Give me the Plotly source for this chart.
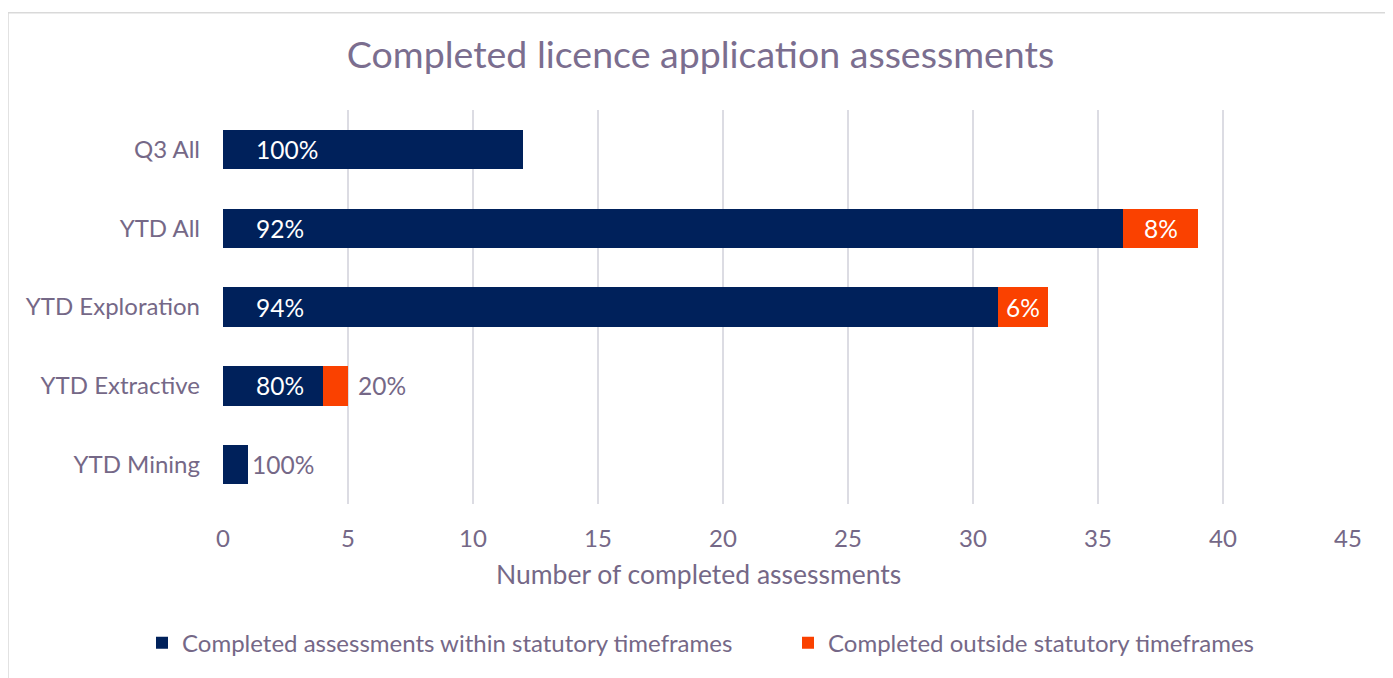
import plotly.graph_objects as go

categories = ["Q3 All", "YTD All", "YTD Exploration", "YTD Extractive", "YTD Mining"]
within = [12, 36, 31, 4, 1]
outside = [0, 3, 2, 1, 0]
series_names = ["Completed assessments within statutory timeframes",
                "Completed outside statutory timeframes"]
x_ticks = [0, 5, 10, 15, 20, 25, 30, 35, 40, 45]
x_title = "Number of completed assessments"

NAVY = "#00215B"
ORANGE = "#FA4100"
TXT = "#756887"
GRID = "#DCDCE3"
FONT = "Lato, 'Open Sans', sans-serif"

# page body adds an 8px margin; work in absolute page pixels
OFF = 8
W, H = 1393 - OFF, 678 - OFF
PX0, PX1 = 223, 1348      # plot area, absolute page x
PY0, PY1 = 109.5, 504.5   # plot area, absolute page y
L, T = PX0 - OFF, PY0 - OFF
pw, ph = PX1 - PX0, PY1 - PY0
R, B = W - L - pw, H - T - ph

def px(xabs):
    return (xabs - PX0) / pw

def py(yabs):
    return (PY1 - yabs) / ph

fig = go.Figure()
fig.add_trace(go.Bar(y=categories, x=within, orientation="h", name=series_names[0],
                     marker=dict(color=NAVY, line=dict(width=0)), hoverinfo="x+y", legend="legend"))
fig.add_trace(go.Bar(y=categories, x=outside, orientation="h", name=series_names[1],
                     marker=dict(color=ORANGE, line=dict(width=0)), hoverinfo="x+y", legend="legend2"))

LBL = 24.5
annotations = []
for c, a, b in zip(categories, within, outside):
    tot = a + b
    pa = round(100 * a / tot)
    pb = round(100 * b / tot)
    if a > 0:
        if a >= 1.5:
            annotations.append(dict(x=0, y=c, xref="x", yref="y", text=f"{pa}%", showarrow=False,
                                    xanchor="left", xshift=31, font=dict(color="white", size=LBL, family=FONT)))
        else:
            annotations.append(dict(x=tot, y=c, xref="x", yref="y", text=f"{pa}%", showarrow=False,
                                    xanchor="left", xshift=2, font=dict(color=TXT, size=LBL, family=FONT)))
    if b > 0:
        if b >= 1.5:
            annotations.append(dict(x=a + b / 2, y=c, xref="x", yref="y", text=f"{pb}%", showarrow=False,
                                    xanchor="center", font=dict(color="white", size=LBL, family=FONT)))
        else:
            annotations.append(dict(x=tot, y=c, xref="x", yref="y", text=f"{pb}%", showarrow=False,
                                    xanchor="left", xshift=8, font=dict(color=TXT, size=LBL, family=FONT)))

# x-axis title, centred on the chart (as in the original) rather than on the plot area
annotations.append(dict(x=px(698), y=py(575), xref="paper", yref="paper", text=x_title, showarrow=False,
                        xanchor="center", yanchor="middle", font=dict(size=26.5, color=TXT, family=FONT)))

legend_common = dict(orientation="h", yanchor="middle", y=py(644), xanchor="left",
                     font=dict(size=24, color=TXT), itemwidth=30, bgcolor="rgba(0,0,0,0)")

fig.update_layout(
    width=W, height=H,
    margin=dict(l=L, r=R, t=T, b=B, autoexpand=False),
    barmode="stack", bargap=0.5,
    paper_bgcolor="white", plot_bgcolor="white",
    font=dict(family=FONT, color=TXT, size=24),
    title=dict(text="Completed licence application assessments", x=0.5, xanchor="center",
               y=1 - (55 - OFF) / H, yanchor="middle", font=dict(size=37.5, color="#7B6E8F", family=FONT)),
    xaxis=dict(range=[0, 45], tickvals=x_ticks, showgrid=True, gridcolor=GRID, gridwidth=2,
               zeroline=False, showline=False, ticks="", ticklabelstandoff=18,
               tickfont=dict(size=24, color=TXT)),
    yaxis=dict(autorange="reversed", showgrid=False, zeroline=False, showline=False, ticks="",
               ticklabelstandoff=22, tickfont=dict(size=24, color=TXT)),
    legend=dict(x=px(178 - 36), **legend_common),
    legend2=dict(x=px(824 - 36), **legend_common),
    annotations=annotations,
    shapes=[dict(type="rect", xref="paper", yref="paper", x0=px(8), x1=px(1391), y0=py(700), y1=py(12),
                 line=dict(color="#D9D9D9", width=1.5), layer="below")],
    showlegend=True,
)
fig.write_html("out.html")
